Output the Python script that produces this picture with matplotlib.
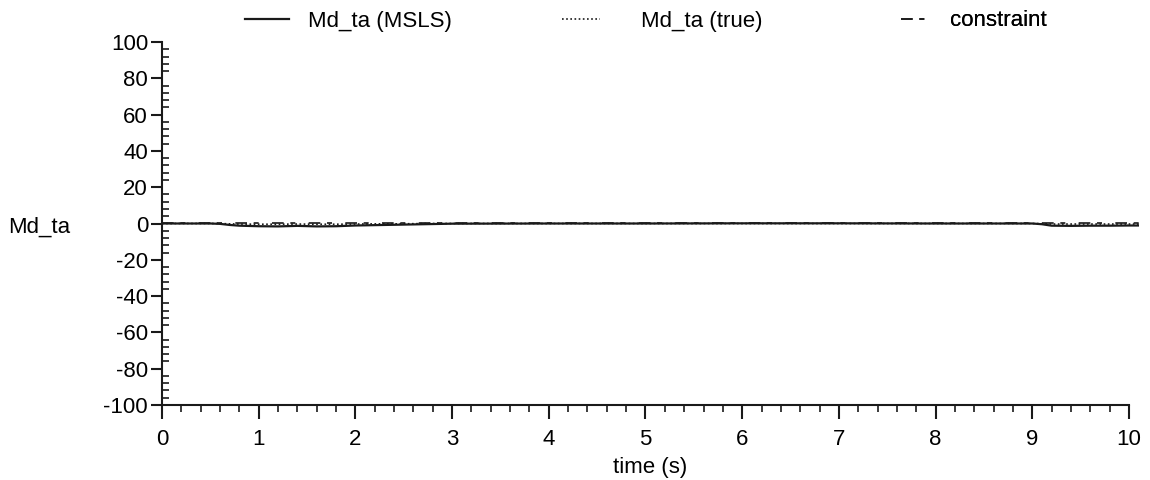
import numpy as np
import matplotlib.pyplot as plt

plt.rcParams['font.family'] = ['Liberation Sans', 'DejaVu Sans']
plt.rcParams['axes.unicode_minus'] = False

# values
t = [0, 0.5, 0.6, 0.7, 0.8, 1.0, 1.2, 1.4, 1.6, 1.8, 2.0, 2.2, 2.4, 2.6, 2.8, 3.0,
     4.0, 5.0, 6.0, 7.0, 8.0, 9.0, 9.1, 9.2, 9.4, 9.6, 9.8, 10.0, 10.1]
md_msls = [0, 0, -0.2, -0.8, -1.2, -1.5, -1.6, -1.3, -1.6, -1.5, -1.1, -0.9, -0.7, -0.5, -0.3, -0.1,
           0, 0, 0.1, 0.1, 0, 0, -0.4, -1.2, -1.3, -1.2, -1.2, -1.1, -1.1]
md_true = [0, 0, 0, -0.2, -0.3, -0.4, -0.4, -0.3, -0.4, -0.4, -0.3, -0.2, -0.2, -0.1, 0, 0,
           0, 0, 0, 0, 0, 0, -0.1, -0.3, -0.3, -0.3, -0.3, -0.3, -0.3]
constraint = [0.3] * len(t)

fig = plt.figure(figsize=(11.5, 4.8), dpi=100)
# x axis: 0 at px 162, 10 at px 1129, limit 10.1
ax_right = 162 + (1129 - 162) * 10.1 / 10
ax = fig.add_axes([162 / 1150, 75 / 480, (ax_right - 162) / 1150, (405 - 42) / 480])

l1, = ax.plot(t, md_msls, color='#1a1a1a', lw=1.6)
l2, = ax.plot(t, md_true, color='#1a1a1a', lw=1.2, ls=(0, (1, 1.5)))
l3, = ax.plot(t, constraint, color='#1a1a1a', lw=1.2, ls=(0, (7, 4, 3, 8)))

ax.set_xlim(0, 10.1)
ax.set_ylim(-100, 100)
for s in ['top', 'right']:
    ax.spines[s].set_visible(False)
ax.spines['bottom'].set_bounds(0, 10)
for s in ['left', 'bottom']:
    ax.spines[s].set_linewidth(1.5)
    ax.spines[s].set_color('#1a1a1a')

ax.set_xticks(np.arange(0, 11, 1))
ax.set_xticks(np.arange(0, 10.01, 0.2), minor=True)
ax.set_yticks(np.arange(-100, 101, 20))
ax.set_yticks(np.arange(-100, 101, 4), minor=True)
ax.tick_params(axis='x', which='major', direction='out', length=10, width=1.5, labelsize=16, pad=7, color='#1a1a1a')
ax.tick_params(axis='x', which='minor', direction='out', length=5, width=1.2, color='#1a1a1a')
ax.tick_params(axis='y', which='major', direction='out', length=8, width=1.5, labelsize=16, pad=2, color='#1a1a1a')
ax.tick_params(axis='y', which='minor', direction='in', length=5, width=1.2, color='#1a1a1a')

ax.set_xlabel('time (s)', fontsize=16, labelpad=5)
ax.set_ylabel('Md_ta', fontsize=16, rotation=0, ha='left', va='center')
ax.yaxis.set_label_coords(-(162 - 8) / (ax_right - 162), 0.49)

# three legend entries placed separately along the top
entries = [(l1, 'Md_ta (MSLS)', 245, 2.0, 0.85),
           (l2, 'Md_ta (true)', 562, 1.7, 1.85),
           (l3, 'constraint', 901, 1.35, 0.85)]
for line, name, px, hlen, tpad in entries:
    leg = ax.legend([line], [name], loc='center left', bbox_to_anchor=(px / 1150, 1 - 21 / 480),
                    bbox_transform=fig.transFigure, frameon=False, fontsize=16,
                    handlelength=hlen, handletextpad=tpad, borderpad=0, borderaxespad=0)
    ax.add_artist(leg)

fig.savefig('out.png', dpi=100)
